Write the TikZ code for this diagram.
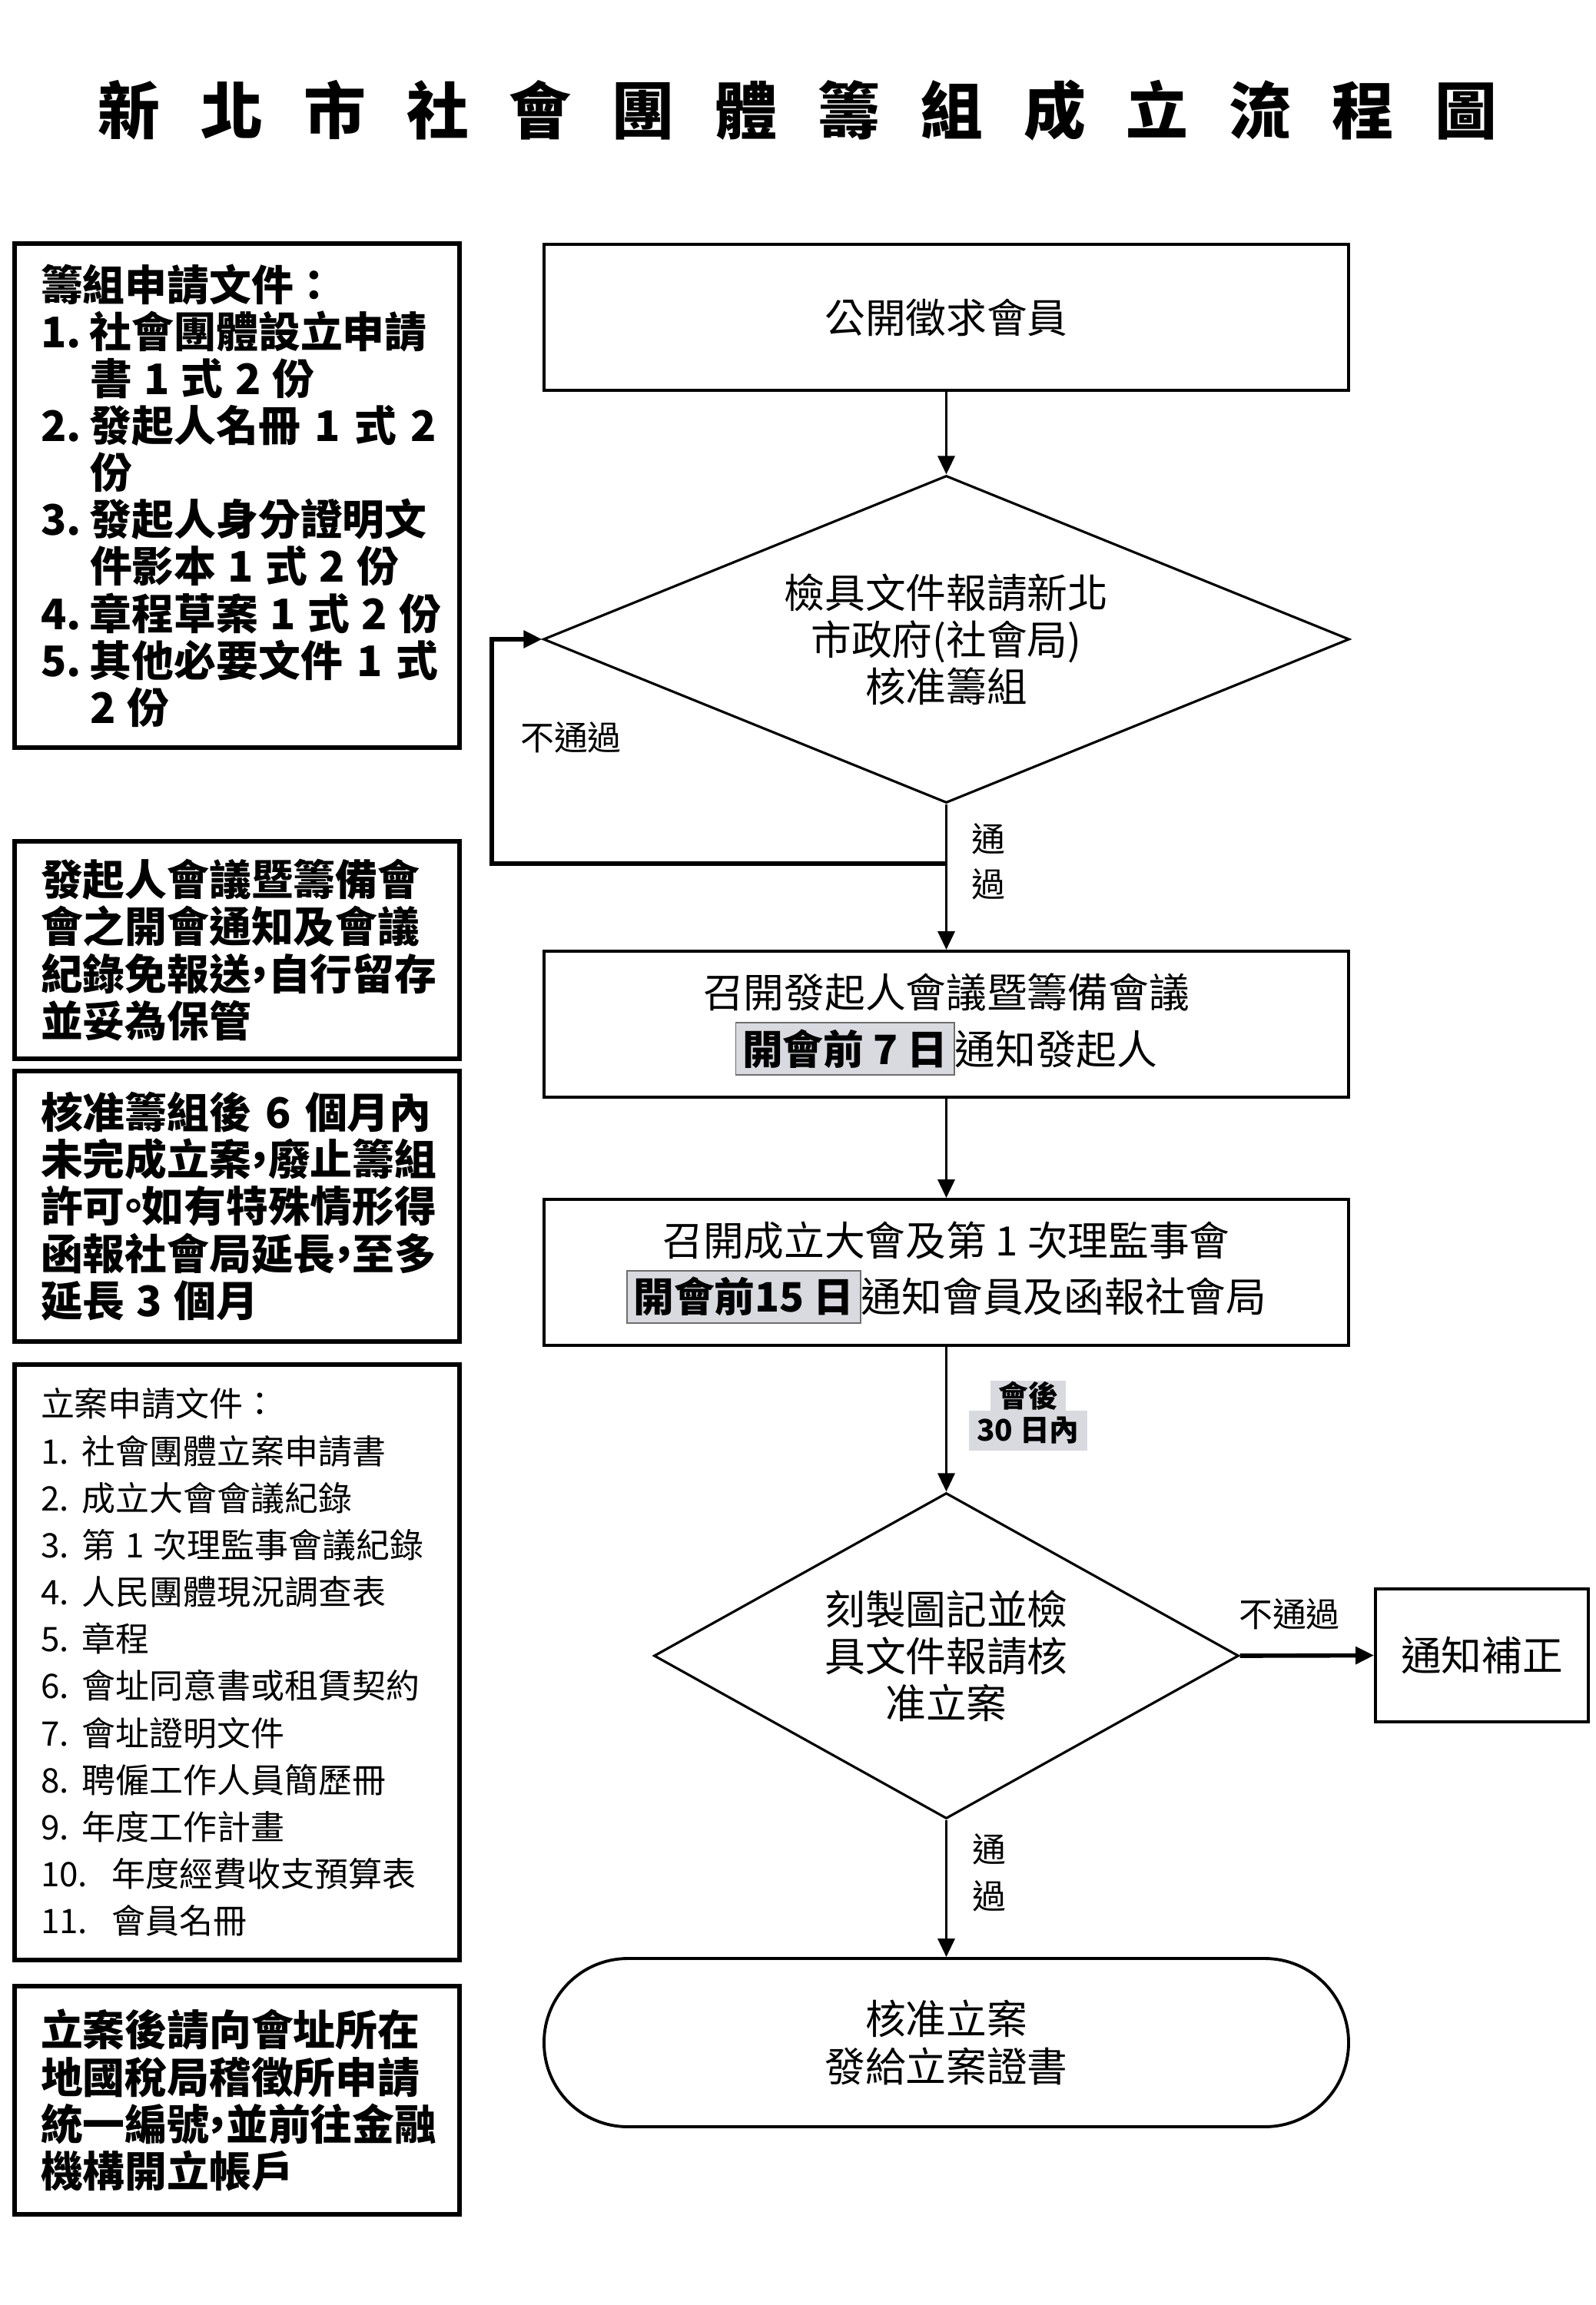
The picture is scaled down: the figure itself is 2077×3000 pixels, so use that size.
\documentclass[tikz,border=0pt]{standalone}
\usepackage{fontspec}
\setmainfont{Noto Sans CJK TC}
\usetikzlibrary{shapes.geometric,arrows.meta,calc}
\definecolor{hl}{RGB}{216,218,224}
\definecolor{hlframe}{RGB}{110,110,110}
\newcommand\hlb[1]{{\setlength{\fboxsep}{2.2pt}\setlength{\fboxrule}{0.5pt}\fcolorbox{hlframe}{hl}{\bfseries #1}}}
\newcommand\hc[1]{\makebox[0.4em][c]{#1}}
\newcommand\nb[1]{\makebox[6.4mm][l]{#1}}
\newcommand\nbb[1]{\makebox[5.4mm][l]{#1}}
\newcommand\nbw[1]{\makebox[9.3mm][l]{#1}}
\newcommand\ws{\kern0.28em}
\newcommand\tsp{\hspace{5.3mm}}
\begin{document}
\begin{tikzpicture}[x=0.1mm,y=-0.1mm,
  flowrect/.style={draw,line width=1.1pt,minimum width=104.7mm,minimum height=19mm,inner sep=0pt,align=center,font=\fontsize{15pt}{21pt}\selectfont},
  dec/.style={diamond,draw,line width=0.9pt,inner sep=0pt,align=center,font=\fontsize{15pt}{17.4pt}\selectfont},
  sidebox/.style={draw,line width=1.5pt,inner xsep=3.4mm,inner ysep=0pt,text width=51.1mm,align=left},
  boldtxt/.style={font=\fontsize{15.6pt}{17.4pt}\selectfont\bfseries},
  regtxt/.style={font=\fontsize{12.5pt}{17.4pt}\selectfont},
  conn/.style={line width=1pt,-{Triangle[length=2.4mm,width=2.2mm]}},
  thickconn/.style={line width=1.6pt,-{Triangle[length=2.4mm,width=2.2mm]}},
  lbl/.style={inner sep=0pt,align=center,font=\fontsize{12.5pt}{16.8pt}\selectfont},
  daylbl/.style={fill=hl,inner xsep=1mm,inner ysep=0pt,font=\fontsize{11pt}{11pt}\selectfont\bfseries}
]
\useasboundingbox (0,0) rectangle (2077,3000);
\fill[white] (0,0) rectangle (2077,3000);

% title
\node[inner sep=0pt,font=\fontsize{23pt}{23pt}\selectfont\bfseries] (title) at (1038,144)
  {新\tsp 北\tsp 市\tsp 社\tsp 會\tsp 團\tsp 體\tsp 籌\tsp 組\tsp 成\tsp 立\tsp 流\tsp 程\tsp 圖};

% left boxes
\node[sidebox,boldtxt,minimum height=65.6mm] (b1) at (308.5,645) {籌組申請文件：\\
\nb{1.}社會團體設立申請\\
\nb{}書\ws 1\ws 式\ws 2\ws 份\\
\nb{2.}\makebox[44.6mm][s]{發起人名冊 1 式 2}\\
\nb{}份\\
\nb{3.}發起人身分證明文\\
\nb{}件影本\ws 1\ws 式\ws 2\ws 份\\
\nb{4.}章程草案\ws 1\ws 式\ws 2\ws 份\\
\nb{5.}\makebox[44.6mm][s]{其他必要文件 1 式}\\
\nb{}2\ws 份};

\node[sidebox,boldtxt,minimum height=28.3mm] (b2) at (308.5,1236.5) {發起人會議暨籌備會\\
會之開會通知及會議\\
紀錄免報送\hc{，}自行留存\\
並妥為保管};

\node[sidebox,boldtxt,minimum height=35.2mm] (b3) at (308.5,1570) {\makebox[51mm][s]{核准籌組後 6 個月內}\\
未完成立案\hc{，}廢止籌組\\
許可\hc{。}如有特殊情形得\\
函報社會局延長\hc{，}至多\\
延長\ws 3\ws 個月};

\node[sidebox,regtxt,minimum height=77.5mm] (b4) at (308.5,2163.5) {立案申請文件：\\
\nbb{1.}社會團體立案申請書\\
\nbb{2.}成立大會會議紀錄\\
\nbb{3.}第\ws 1\ws 次理監事會議紀錄\\
\nbb{4.}人民團體現況調查表\\
\nbb{5.}章程\\
\nbb{6.}會址同意書或租賃契約\\
\nbb{7.}會址證明文件\\
\nbb{8.}聘僱工作人員簡歷冊\\
\nbb{9.}年度工作計畫\\
\nbw{10.}年度經費收支預算表\\
\nbw{11.}會員名冊};

\node[sidebox,boldtxt,minimum height=29.7mm] (b5) at (308.5,2733.5) {立案後請向會址所在\\
地國稅局稽徵所申請\\
統一編號\hc{，}並前往金融\\
機構開立帳戶};

% flow
\node[flowrect] (n1) at (1231.5,413) {公開徵求會員};
\node[dec,minimum width=104.9mm,minimum height=42.6mm,aspect=2.46] (d1) at (1231.5,832)
  {檢具文件報請新北\\市政府(社會局)\\核准籌組};
\node[flowrect] (n2) at (1231.5,1333) {召開發起人會議暨籌備會議\\\hlb{開會前 7 日}通知發起人};
\node[flowrect] (n3) at (1231.5,1656) {召開成立大會及第 1 次理監事會\\\hlb{開會前15 日}通知會員及函報社會局};
\node[dec,minimum width=76.1mm,minimum height=42.4mm,aspect=1.8] (d2) at (1231.5,2155)
  {刻製圖記並檢\\具文件報請核\\准立案};
\node[draw,line width=1.1pt,minimum width=27.7mm,minimum height=17.3mm,inner sep=0pt,font=\fontsize{15pt}{18pt}\selectfont] (fix) at (1928.5,2154.5) {通知補正};
\node[draw,line width=1.1pt,rounded corners=10.9mm,minimum width=104.7mm,minimum height=21.9mm,inner sep=0pt,align=center,font=\fontsize{15pt}{17.6pt}\selectfont] (end) at (1231.5,2658.5) {核准立案\\發給立案證書};

% labels
\node[lbl] (no1) at (743,960) {不通過};
\node[lbl] (yes1) at (1286,1121) {通\\過};
\node[lbl] (no2) at (1678,2101) {不通過};
\node[lbl,font=\fontsize{12.5pt}{17.4pt}\selectfont] (yes2) at (1287,2437) {通\\過};
\node[daylbl,minimum height=3.9mm] (after1) at (1338,1816.5) {會後};
\node[daylbl,minimum height=5.2mm] (after2) at (1338,1862) {30 日內};

% connectors
\coordinate (j1) at (1231.5,1124);
\coordinate (lc) at (640,832);
\draw[conn] (n1.south) -- (d1.north);
\draw[conn] (d1.south) -- (n2.north);
\draw[thickconn] (j1) -| (lc) -- (d1.west);
\draw[conn] (n2.south) -- (n3.north);
\draw[conn] (n3.south) -- (d2.north);
\draw[thickconn] (d2.east) -- (fix.west);
\draw[conn] (d2.south) -- (end.north);
\end{tikzpicture}
\end{document}
